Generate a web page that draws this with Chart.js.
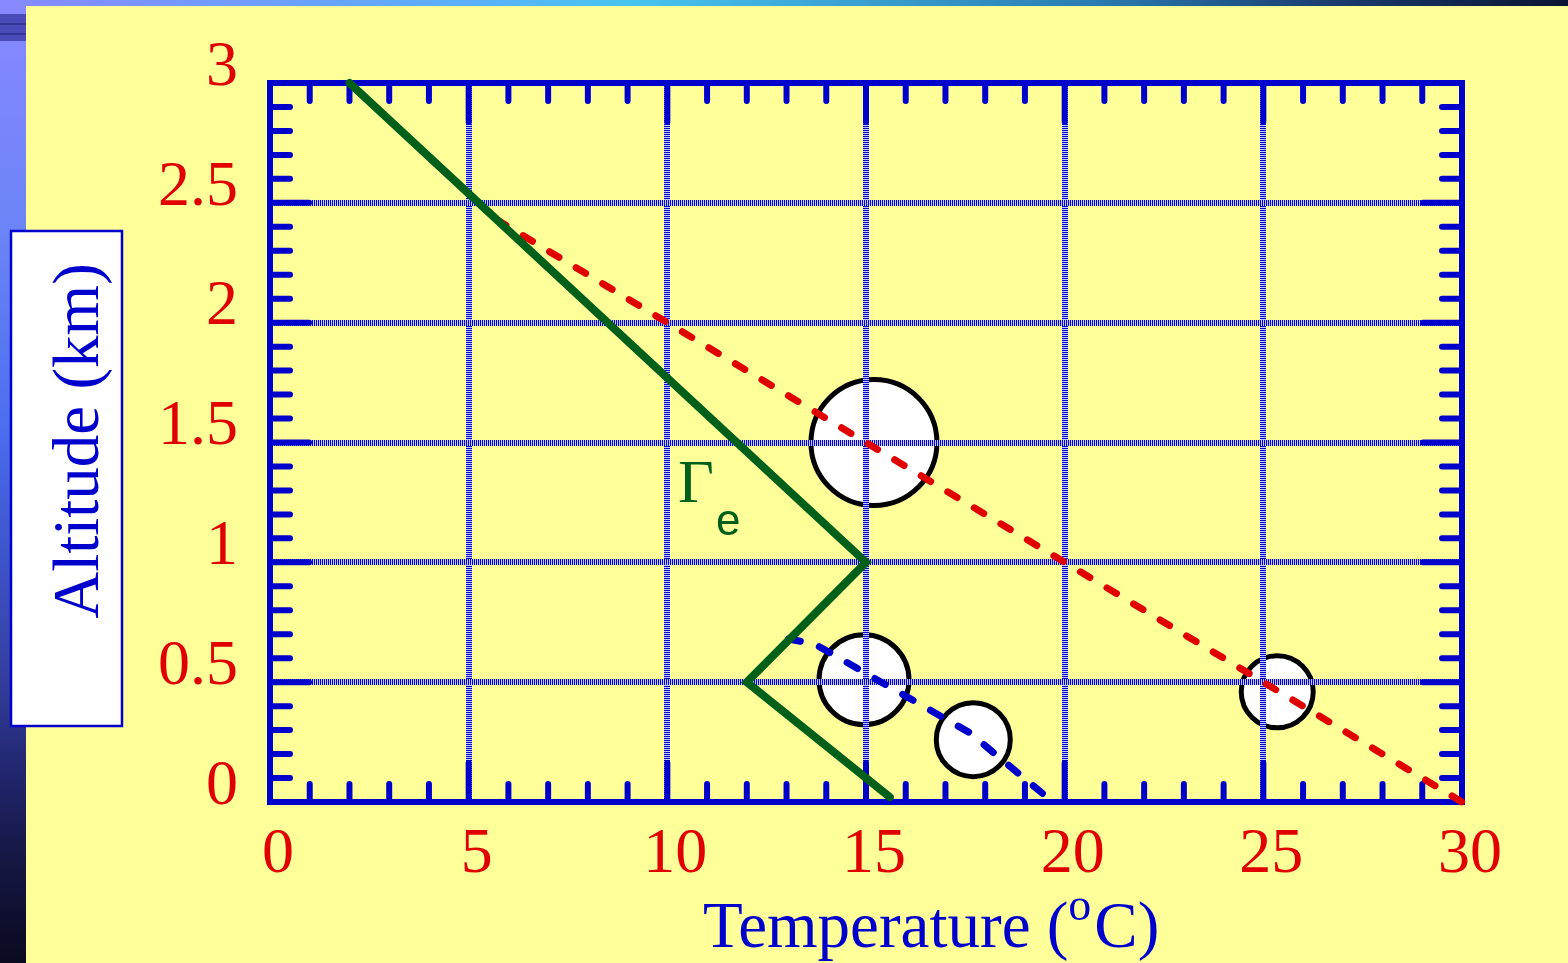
<!DOCTYPE html>
<html>
<head>
<meta charset="utf-8">
<title>Altitude vs Temperature</title>
<script src="https://cdn.jsdelivr.net/npm/chart.js@4"></script>
<style>
  html, body { margin: 0; padding: 0; width: 1568px; height: 963px; overflow: hidden; background: #FFFF99; }
  .strip-left {
    position: absolute; left: 0; top: 0; width: 26px; height: 963px;
    background: linear-gradient(to bottom, #8888FF 0%, #6A84F6 25%, #4A6CEE 45%, #3C50C4 60%, #343FA0 70%, #22266E 80%, #141640 90%, #0A0A20 100%);
  }
  .strip-top {
    position: absolute; left: 0; top: 0; width: 1568px; height: 6px;
    background: linear-gradient(to right, #8888FF 0%, #5AB0F8 30%, #48C4F0 40%, #2A7CB0 70%, #1A3C70 85%, #0A1432 100%);
  }
  .chrome {
    position: absolute; left: 0; top: 14px; width: 26px; height: 27px;
    background: linear-gradient(to bottom, #4A4AB8 0px, #4A4AB8 9px, #22227A 10px, #4A4AB8 11px, #4A4AB8 19px, #22227A 20px, #4A4AB8 21px);
  }
  canvas { position: absolute; left: 0; top: 0; }
</style>
</head>
<body>
<div class="strip-left"></div>
<div class="strip-top"></div>
<div class="chrome"></div>
<canvas id="chart" width="1568" height="963"></canvas>
<script>
// ── Data (temperature °C, altitude km) ──────────────────────────
const envT   = [2, 15, 12, 15.6];          // environment profile (Γe)
const envZ   = [3, 1, 0.5, 0.02];
const dryT   = [5.7, 30];                  // red dashed adiabat
const dryZ   = [2.43, 0];
const blueT  = [13.05, 13.7, 17.6, 19.7];  // blue dashed parcel path
const blueZ  = [0.68, 0.66, 0.29, 0.0];
const parcelT = [15.2, 14.95, 17.7, 25.35];
const parcelZ = [1.5, 0.51, 0.26, 0.46];
const parcelR = [63, 45, 37, 36];

const xTickLabels = ['0', '5', '10', '15', '20', '25', '30'];
const yTickLabels = ['0', '0.5', '1', '1.5', '2', '2.5', '3'];
const gammaAt = [10.27, 1.25];

const BLUE  = '#0000CC';
const RED   = '#E00000';
const GREEN = '#00601A';
const SERIF = "'Liberation Serif', 'Times New Roman', serif";

const pts = (xs, ys) => xs.map((x, i) => ({ x, y: ys[i] }));

// hatched grid: 1px stripes across the line direction
function stripes(vertical) {
  const c = document.createElement('canvas');
  c.width = vertical ? 1 : 2;
  c.height = vertical ? 2 : 1;
  const g = c.getContext('2d');
  g.fillStyle = '#C8C8FA';
  g.fillRect(0, 0, c.width, c.height);
  g.fillStyle = BLUE;
  g.fillRect(0, 0, 1, 1);
  return g.createPattern(c, 'repeat');
}

// frame, inside ticks, titles; parcels go under the grid
const framePlugin = {
  id: 'frame',
  beforeDraw(chart) {
    const ctx = chart.ctx;
    chart.data.datasets.forEach((ds, i) => {
      if (ds.type !== 'bubble') return;
      chart.getDatasetMeta(i).data.forEach(el => el.draw(ctx, chart.chartArea));
    });
  },
  beforeDatasetDraw(chart, args) {
    if (args.meta.type === 'bubble') return false;
  },
  beforeDatasetsDraw(chart) {
    const { ctx, chartArea: a, scales: { x, y } } = chart;
    ctx.save();
    ctx.strokeStyle = BLUE;
    ctx.lineWidth = 6;
    ctx.lineCap = 'round';
    ctx.beginPath();
    for (let k = 0; k <= 30; k++) {
      const px = x.getPixelForValue(k);
      const len = k % 5 === 0 ? 39 : 18;
      ctx.moveTo(px, a.bottom); ctx.lineTo(px, a.bottom - len);
      ctx.moveTo(px, a.top);    ctx.lineTo(px, a.top + len);
    }
    for (let k = 0; k <= 30; k++) {
      const py = y.getPixelForValue(k / 10);
      const len = k % 5 === 0 ? 39 : 20;
      ctx.moveTo(a.left, py);  ctx.lineTo(a.left + len, py);
      ctx.moveTo(a.right, py); ctx.lineTo(a.right - len, py);
    }
    ctx.stroke();
    ctx.lineCap = 'butt';
    ctx.strokeRect(a.left, a.top, a.right - a.left, a.bottom - a.top);
    ctx.restore();
  },
  afterDraw(chart) {
    const { ctx, scales: { x, y } } = chart;
    ctx.save();

    // Γe label
    const gx = x.getPixelForValue(gammaAt[0]);
    const gy = y.getPixelForValue(gammaAt[1]);
    ctx.fillStyle = GREEN;
    ctx.textBaseline = 'alphabetic';
    ctx.font = `62px ${SERIF}`;
    ctx.fillText('Γ', gx, gy);
    ctx.font = "44px 'Liberation Sans', Arial, sans-serif";
    ctx.fillText('e', gx + 38, gy + 33);

    // x title with superscript o
    ctx.fillStyle = BLUE;
    ctx.font = `65px ${SERIF}`;
    let tx = 703;
    const part1 = 'Temperature (';
    ctx.fillText(part1, tx, 947);
    tx += ctx.measureText(part1).width;
    ctx.font = `46px ${SERIF}`;
    ctx.fillText('o', tx, 920);
    tx += ctx.measureText('o').width + 3;
    ctx.font = `65px ${SERIF}`;
    ctx.fillText('C)', tx, 947);

    // y title in white box
    ctx.fillStyle = '#FFFFFF';
    ctx.fillRect(11, 231, 111, 495);
    ctx.strokeStyle = BLUE;
    ctx.lineWidth = 2.5;
    ctx.strokeRect(11, 231, 111, 495);
    ctx.translate(98, 441);
    ctx.rotate(-Math.PI / 2);
    ctx.fillStyle = BLUE;
    ctx.font = `65px ${SERIF}`;
    ctx.textAlign = 'center';
    ctx.fillText('Altitude (km)', 0, 0);
    ctx.restore();
  }
};

const tickFont = { family: SERIF, size: 64 };

new Chart(document.getElementById('chart'), {
  type: 'line',
  data: {
    datasets: [
      {
        type: 'bubble',
        data: parcelT.map((t, i) => ({ x: t, y: parcelZ[i], r: parcelR[i] })),
        backgroundColor: '#FFFFFF',
        borderColor: '#000000',
        borderWidth: 5,
      },
      {
        data: pts(envT, envZ),
        borderColor: GREEN,
        borderWidth: 8,
        borderCapStyle: 'round',
        borderJoinStyle: 'miter',
        pointRadius: 0,
        tension: 0,
        clip: 10,
      },
      {
        data: pts(dryT, dryZ),
        borderColor: RED,
        borderWidth: 7,
        borderDash: [11, 20],
        borderCapStyle: 'round',
        pointRadius: 0,
        clip: 10,
      },
      {
        data: pts(blueT, blueZ),
        borderColor: BLUE,
        borderWidth: 7,
        borderDash: [12, 20],
        borderCapStyle: 'round',
        pointRadius: 0,
        clip: 10,
      },
    ]
  },
  options: {
    responsive: false,
    animation: false,
    events: [],
    layout: { padding: { top: 83, right: 106, left: 0, bottom: 0 } },
    plugins: { legend: { display: false }, tooltip: { enabled: false } },
    scales: {
      x: {
        type: 'linear',
        min: 0, max: 30,
        afterFit: (s) => { s.height = 161; },
        grid: { color: stripes(true), lineWidth: 6, drawTicks: false },
        border: { display: false },
        ticks: {
          stepSize: 5,
          autoSkip: false,
          maxRotation: 0,
          padding: 15,
          labelOffset: 8,
          color: RED,
          font: tickFont,
          callback: (v, i) => xTickLabels[i],
        }
      },
      y: {
        min: 0, max: 3,
        afterFit: (s) => { s.width = 270; },
        grid: { color: stripes(false), lineWidth: 6, drawTicks: false },
        border: { display: false },
        ticks: {
          stepSize: 0.5,
          autoSkip: false,
          padding: 32,
          labelOffset: -15,
          color: RED,
          font: tickFont,
          callback: (v, i) => yTickLabels[i],
        }
      }
    }
  },
  plugins: [framePlugin]
});
</script>
</body>
</html>
